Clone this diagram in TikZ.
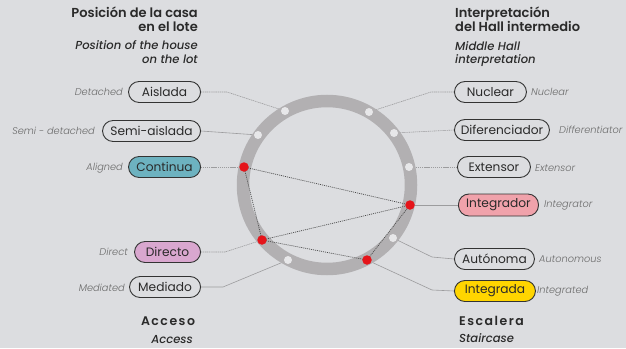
\documentclass[tikz,border=0pt]{standalone}
\usepackage{fontspec}
\setmainfont{Poppins}
\newfontfamily\popsemi{Poppins SemiBold}
\newfontfamily\popmedit{Poppins Medium Italic}
\newfontfamily\poplightit{Poppins Light Italic}
\usetikzlibrary{backgrounds}
\definecolor{bgc}{HTML}{DCDDE0}
\definecolor{ringc}{HTML}{B2B0B2}
\definecolor{wdotc}{HTML}{E7E7E9}
\definecolor{redc}{HTML}{E5141A}
\definecolor{pillline}{HTML}{333333}
\definecolor{txt}{HTML}{2A2A2A}
\definecolor{engc}{HTML}{6A6A6A}
\definecolor{conc}{HTML}{9C9C9E}
\definecolor{linkc}{HTML}{4A4A4A}
\definecolor{teal}{HTML}{6DB2C0}
\definecolor{lav}{HTML}{D9A7CF}
\definecolor{rose}{HTML}{F0A2AB}
\definecolor{yel}{HTML}{FFD500}
\begin{document}
\begin{tikzpicture}[x=1pt,y=-1pt,
  pill/.style={draw=pillline, line width=0.9pt, rounded corners=10.5pt, minimum height=21pt, inner sep=0pt, font=\fontsize{12.2}{13}\selectfont, text=txt},
  eng/.style={font=\poplightit\fontsize{9.8}{11}\selectfont, text=engc, inner sep=0pt},
  ttl/.style={font=\popsemi\fontsize{13}{14}\selectfont, text=txt, inner sep=0pt},
  sub/.style={font=\popmedit\fontsize{11.6}{14}\selectfont, text=txt, inner sep=0pt},
  spaced/.style={font=\popsemi\fontsize{12.5}{14}\selectfont\addfontfeature{LetterSpace=12}, text=txt, inner sep=0pt},
  conn/.style={draw=conc, line width=0.6pt},
  dconn/.style={draw=conc, line width=0.6pt, dash pattern=on 1.2pt off 0.7pt},
  wdot/.style={circle, fill=wdotc, minimum size=8pt, inner sep=0pt},
  rdot/.style={circle, fill=redc, minimum size=9.5pt, inner sep=0pt},
  rlink/.style={draw=linkc, line width=0.7pt, dash pattern=on 1pt off 1pt}]

\useasboundingbox (0,0) rectangle (626,348);

% titles
\node[ttl, anchor=base east] (tl1) at (198,17) {Posición de la casa};
\node[ttl, anchor=base east] (tl2) at (198,31.5) {en el lote};
\node[sub, anchor=base east] (sl1) at (198,49.5) {Position of the house};
\node[sub, anchor=base east] (sl2) at (198,63) {on the lot};
\node[ttl, anchor=base west] (tr1) at (455,17) {Interpretación};
\node[ttl, anchor=base west] (tr2) at (455,31.5) {del Hall intermedio};
\node[sub, anchor=base west] (sr1) at (455,50) {Middle Hall};
\node[sub, anchor=base west] (sr2) at (455,63) {interpretation};
\node[spaced, anchor=base] (acc) at (168,325) {Acceso};
\node[sub, anchor=base east] (acce) at (193,343) {Access};
\node[spaced, anchor=base west] (esc) at (459,325) {Escalera};
\node[sub, anchor=base west] (esce) at (459,342.5) {Staircase};

% left pills
\node[pill, anchor=east, minimum width=72pt] (aislada) at (201,92) {Aislada};
\node[pill, anchor=east, minimum width=98pt] (semi) at (201,131) {Semi-aislada};
\node[pill, anchor=east, minimum width=72pt, fill=teal] (continua) at (201,167) {Continua};
\node[pill, anchor=east, minimum width=66pt, fill=lav] (directo) at (201,252) {Directo};
\node[pill, anchor=east, minimum width=71pt] (mediado) at (201,287) {Mediado};

\node[eng, anchor=east] (e1) at (123,92) {Detached};
\node[eng, anchor=east] (e2) at (95,131) {Semi - detached};
\node[eng, anchor=east] (e3) at (123,168) {Aligned};
\node[eng, anchor=east] (e4) at (128,252) {Direct};
\node[eng, anchor=east] (e5) at (125,288) {Mediated};

% right pills
\node[pill, anchor=west, minimum width=72pt] (nuclear) at (454,92) {Nuclear};
\node[pill, anchor=west, minimum width=95pt] (difer) at (454,130) {Diferenciador};
\node[pill, anchor=west, minimum width=73pt] (extensor) at (457,167) {Extensor};
\node[pill, anchor=west, minimum width=80pt, minimum height=22pt, fill=rose] (integrador) at (458,205) {Integrador};
\node[pill, anchor=west, minimum width=80pt] (autonoma) at (454,259) {Autónoma};
\node[pill, anchor=west, minimum width=81pt, fill=yel] (integrada) at (454,291) {Integrada};

\node[eng, anchor=west] (f1) at (531,92) {Nuclear};
\node[eng, anchor=west] (f2) at (559,130) {Differentiator};
\node[eng, anchor=west] (f3) at (535,168) {Extensor};
\node[eng, anchor=west] (f4) at (544,205) {Integrator};
\node[eng, anchor=west] (f5) at (539,259) {Autonomous};
\node[eng, anchor=west] (f6) at (537,291) {Integrated};

% dots on ring
\node[wdot] (pa) at (285,111) {};
\node[wdot] (ps) at (258,135) {};
\node[rdot] (pc) at (244,167) {};
\node[rdot] (pd) at (262,240) {};
\node[wdot] (pm) at (288,260) {};
\node[wdot] (pn) at (369,112) {};
\node[wdot] (pf) at (394,133) {};
\node[wdot] (pe) at (409,167) {};
\node[rdot] (pi) at (410,205) {};
\node[wdot] (pu) at (393,238) {};
\node[rdot] (pg) at (367,260) {};

\begin{scope}[on background layer]
  \fill[bgc] (0,0) rectangle (626,348);
  \draw[dconn] (aislada.east) -- (227,92) -- (pa.center);
  \draw[conn] (semi.east) -- (ps.center);
  \draw[dconn] (continua.east) -- (pc.center);
  \draw[dconn] (directo.east) -- (225,252) -- (pd.center);
  \draw[conn] (mediado.east) -- (223,287) -- (pm.center);
  \draw[dconn] (nuclear.west) -- (431,92) -- (pn.center);
  \draw[dconn] (difer.west) -- (pf.center);
  \draw[dconn] (extensor.west) -- (pe.center);
  \draw[conn] (integrador.west) -- (pi.center);
  \draw[conn] (autonoma.west) -- (432,257) -- (pu.center);
  \draw[conn] (integrada.west) -- (432,290) -- (pg.center);
  \draw[ringc, line width=12.5pt] (327,185) circle[radius=84];
  \draw[rlink] (pc.center) -- (pi.center);
  \draw[rlink] (pc.center) -- (pd.center);
  \draw[rlink] (pd.center) -- (pi.center);
  \draw[rlink] (pd.center) -- (pg.center);
  \draw[rlink] (pg.center) -- (pi.center);
\end{scope}
\end{tikzpicture}
\end{document}
